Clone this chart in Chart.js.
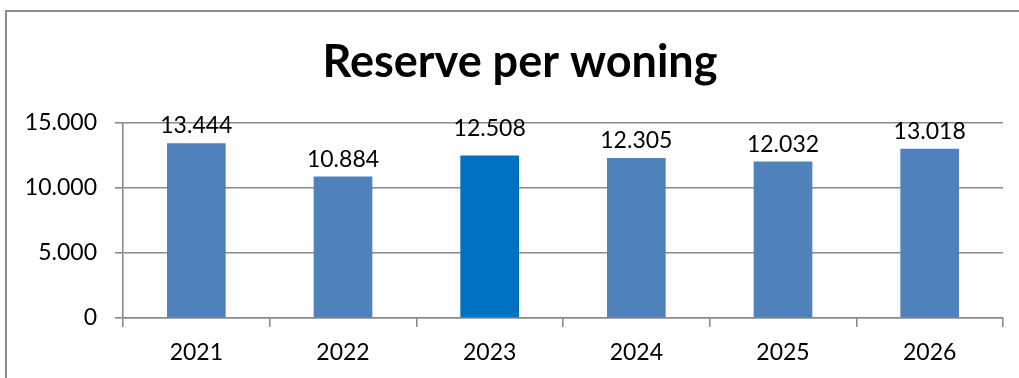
<!DOCTYPE html>
<html>
<head>
<meta charset="utf-8">
<script src="https://cdn.jsdelivr.net/npm/chart.js@4/dist/chart.umd.min.js"></script>
<style>
  body { margin: 0; background: #fff; overflow: hidden; }
  #wrap { position: relative; width: 1019px; height: 378px; }
  #frame { position: absolute; left: 5px; top: 10px; width: 1100px; height: 500px; border: 2px solid #8c8c8c; }
  #chart { position: absolute; left: 0; top: 0; }
</style>
</head>
<body>
<div id="wrap">
  <div id="frame"></div>
  <canvas id="chart" width="1019" height="378"></canvas>
</div>
<script>
// Jaren en reserve per woning
const years = ['2021', '2022', '2023', '2024', '2025', '2026'];
const reserve = [13444, 10884, 12508, 12305, 12032, 13018];
const yTicks = [0, 5000, 10000, 15000];
const title = 'Reserve per woning';

const barColor = '#4F81BD';
const highlightColor = '#0070C0';
const gridColor = '#8a8a8a';
const font = 'Lato';

function fmt(v) {
    return v.toLocaleString('nl-NL');
}

// titel + labels boven de staven
const valueLabels = {
    id: 'valueLabels',
    afterDatasetsDraw(chart) {
        const ctx = chart.ctx;
        const meta = chart.getDatasetMeta(0);
        ctx.save();
        ctx.fillStyle = '#000';
        ctx.textAlign = 'center';
        ctx.textBaseline = 'alphabetic';

        // titel staat in Excel iets rechts van het midden
        ctx.font = 'bold 45px ' + font;
        ctx.fillText(title, 520, 77);

        ctx.font = '23px ' + font;
        meta.data.forEach((bar, i) => {
            // Excel had het label van 2023 iets hoger staan
            const gap = i === 2 ? 19 : 10;
            ctx.fillText(fmt(reserve[i]), bar.x, bar.y - gap);
        });
        ctx.restore();
    }
};

new Chart(document.querySelector('#chart').getContext('2d'), {
    type: 'bar',
    data: {
        labels: years,
        datasets: [{
            data: reserve,
            backgroundColor: years.map(y => y === '2023' ? highlightColor : barColor),
            borderWidth: 0,
            barPercentage: 0.4,
            categoryPercentage: 1
        }]
    },
    options: {
        responsive: false,
        animation: false,
        layout: { padding: { left: 0, right: 16, top: 123, bottom: 0 } },
        plugins: {
            legend: { display: false },
            tooltip: { enabled: false },
            title: { display: false }
        },
        scales: {
            x: {
                grid: {
                    offset: true,
                    drawOnChartArea: false,
                    drawTicks: true,
                    tickLength: 9,
                    color: gridColor,
                    lineWidth: 1.6
                },
                border: { display: true, color: gridColor, width: 1.6 },
                ticks: {
                    color: '#000',
                    font: { family: font, size: 23 },
                    padding: 12
                },
                afterFit(scale) { scale.height = 60; }
            },
            y: {
                min: 0,
                max: 15000,
                afterBuildTicks(scale) {
                    scale.ticks = yTicks.map(v => ({ value: v }));
                },
                grid: {
                    color: gridColor,
                    lineWidth: 1.6,
                    drawTicks: true,
                    tickLength: 8
                },
                border: { display: true, color: gridColor, width: 1.6 },
                ticks: {
                    color: '#000',
                    font: { family: font, size: 23 },
                    padding: 18,
                    callback: v => fmt(v)
                },
                afterFit(scale) { scale.width = 123; }
            }
        }
    },
    plugins: [valueLabels]
});
</script>
</body>
</html>
